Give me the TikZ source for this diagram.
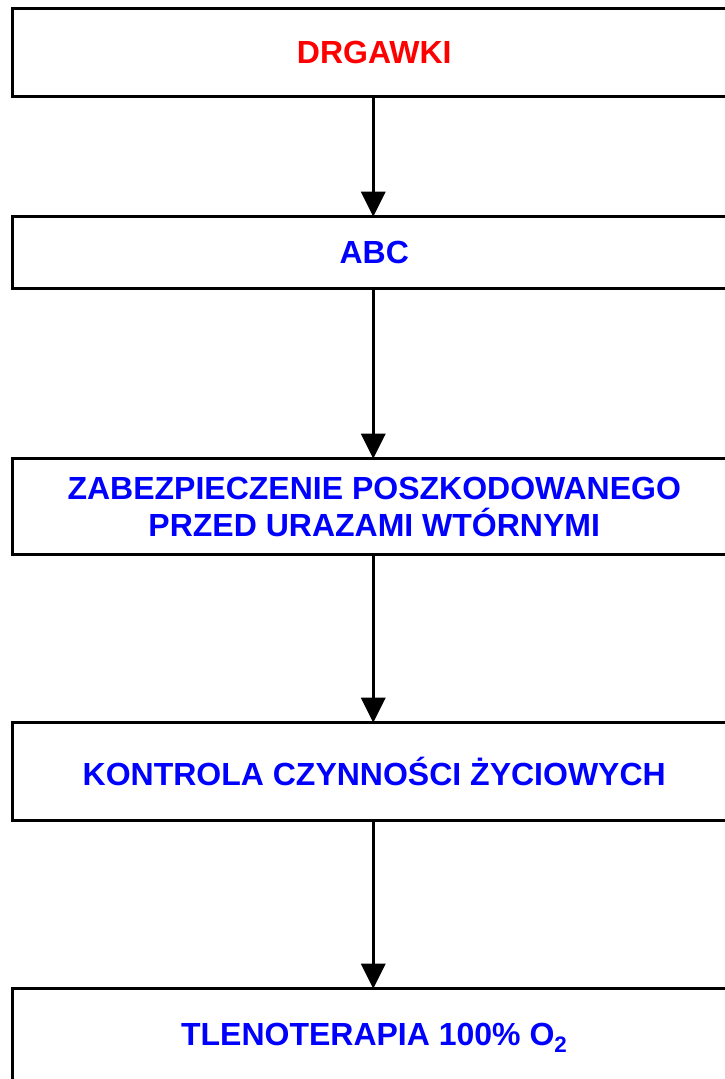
\documentclass[tikz,border=0pt]{standalone}
\usepackage{fontspec}
\setmainfont{Liberation Sans}
\usepackage{tikz}
\usetikzlibrary{positioning,  % placement relatif
           arrows.meta}       % pointes de fleches
\tikzset{
  etape/.style={draw, line width=3pt, outer sep=0pt, minimum width=723.5pt, inner sep=0pt,
                align=center, font=\fontsize{32pt}{37pt}\selectfont\bfseries},
  fleche/.style={line width=3pt, -{Triangle[length=25pt,width=24pt]}}
}

\begin{document}
\begin{tikzpicture}
\useasboundingbox (0,0) rectangle (725pt,-1079pt);
\node[etape, minimum height=88pt, text=red, anchor=north west](A)at(12.5pt,-8.7pt){DRGAWKI};
\node[etape, minimum height=72pt, text=blue, below=120pt of A](B){ABC};
\node[etape, minimum height=96pt, text=blue, below=170pt of B](C){ZABEZPIECZENIE POSZKODOWANEGO\\PRZED URAZAMI WTÓRNYMI};
\node[etape, minimum height=98pt, text=blue, below=168pt of C](D){KONTROLA CZYNNOŚCI ŻYCIOWYCH};
\node[etape, minimum height=98pt, text=blue, below=168pt of D](E){TLENOTERAPIA 100\% O\textsubscript{2}};
\draw[fleche]([xshift=-1pt]A.south)--([xshift=-1pt]B.north);
\draw[fleche]([xshift=-1pt]B.south)--([xshift=-1pt]C.north);
\draw[fleche]([xshift=-1pt]C.south)--([xshift=-1pt]D.north);
\draw[fleche]([xshift=-1pt]D.south)--([xshift=-1pt]E.north);
\end{tikzpicture}
\end{document}
